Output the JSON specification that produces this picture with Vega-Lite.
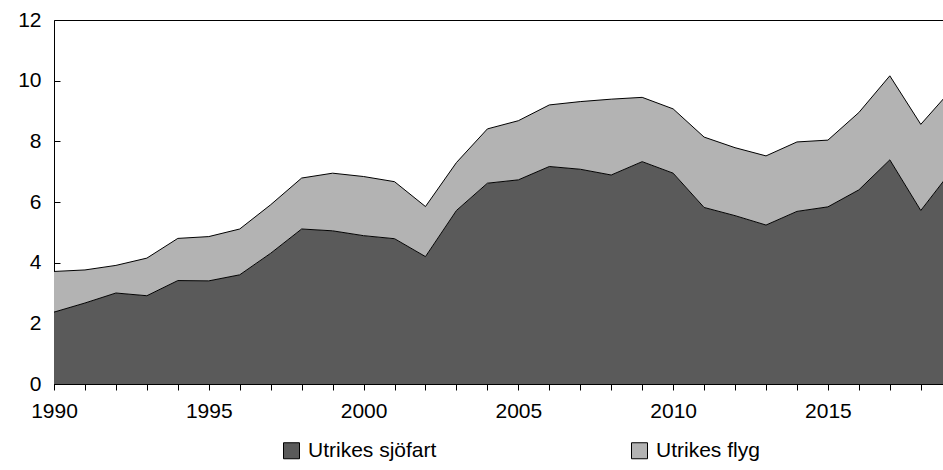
{
  "$schema": "https://vega.github.io/schema/vega-lite/v6.json",
  "autosize": "none",
  "width": 890,
  "height": 364,
  "padding": {"left": 54, "top": 20, "right": 0, "bottom": 86},
  "background": "white",
  "data": {
    "values": [
      {"year": 1990, "typ": "Utrikes sjöfart", "value": 2.37}, {"year": 1990, "typ": "Utrikes flyg", "value": 1.34},
      {"year": 1991, "typ": "Utrikes sjöfart", "value": 2.67}, {"year": 1991, "typ": "Utrikes flyg", "value": 1.09},
      {"year": 1992, "typ": "Utrikes sjöfart", "value": 3.00}, {"year": 1992, "typ": "Utrikes flyg", "value": 0.91},
      {"year": 1993, "typ": "Utrikes sjöfart", "value": 2.91}, {"year": 1993, "typ": "Utrikes flyg", "value": 1.24},
      {"year": 1994, "typ": "Utrikes sjöfart", "value": 3.41}, {"year": 1994, "typ": "Utrikes flyg", "value": 1.39},
      {"year": 1995, "typ": "Utrikes sjöfart", "value": 3.40}, {"year": 1995, "typ": "Utrikes flyg", "value": 1.46},
      {"year": 1996, "typ": "Utrikes sjöfart", "value": 3.60}, {"year": 1996, "typ": "Utrikes flyg", "value": 1.51},
      {"year": 1997, "typ": "Utrikes sjöfart", "value": 4.31}, {"year": 1997, "typ": "Utrikes flyg", "value": 1.60},
      {"year": 1998, "typ": "Utrikes sjöfart", "value": 5.11}, {"year": 1998, "typ": "Utrikes flyg", "value": 1.68},
      {"year": 1999, "typ": "Utrikes sjöfart", "value": 5.05}, {"year": 1999, "typ": "Utrikes flyg", "value": 1.90},
      {"year": 2000, "typ": "Utrikes sjöfart", "value": 4.89}, {"year": 2000, "typ": "Utrikes flyg", "value": 1.95},
      {"year": 2001, "typ": "Utrikes sjöfart", "value": 4.79}, {"year": 2001, "typ": "Utrikes flyg", "value": 1.88},
      {"year": 2002, "typ": "Utrikes sjöfart", "value": 4.20}, {"year": 2002, "typ": "Utrikes flyg", "value": 1.65},
      {"year": 2003, "typ": "Utrikes sjöfart", "value": 5.72}, {"year": 2003, "typ": "Utrikes flyg", "value": 1.58},
      {"year": 2004, "typ": "Utrikes sjöfart", "value": 6.62}, {"year": 2004, "typ": "Utrikes flyg", "value": 1.79},
      {"year": 2005, "typ": "Utrikes sjöfart", "value": 6.73}, {"year": 2005, "typ": "Utrikes flyg", "value": 1.95},
      {"year": 2006, "typ": "Utrikes sjöfart", "value": 7.17}, {"year": 2006, "typ": "Utrikes flyg", "value": 2.03},
      {"year": 2007, "typ": "Utrikes sjöfart", "value": 7.08}, {"year": 2007, "typ": "Utrikes flyg", "value": 2.23},
      {"year": 2008, "typ": "Utrikes sjöfart", "value": 6.89}, {"year": 2008, "typ": "Utrikes flyg", "value": 2.50},
      {"year": 2009, "typ": "Utrikes sjöfart", "value": 7.33}, {"year": 2009, "typ": "Utrikes flyg", "value": 2.12},
      {"year": 2010, "typ": "Utrikes sjöfart", "value": 6.95}, {"year": 2010, "typ": "Utrikes flyg", "value": 2.12},
      {"year": 2011, "typ": "Utrikes sjöfart", "value": 5.82}, {"year": 2011, "typ": "Utrikes flyg", "value": 2.32},
      {"year": 2012, "typ": "Utrikes sjöfart", "value": 5.55}, {"year": 2012, "typ": "Utrikes flyg", "value": 2.24},
      {"year": 2013, "typ": "Utrikes sjöfart", "value": 5.24}, {"year": 2013, "typ": "Utrikes flyg", "value": 2.28},
      {"year": 2014, "typ": "Utrikes sjöfart", "value": 5.69}, {"year": 2014, "typ": "Utrikes flyg", "value": 2.29},
      {"year": 2015, "typ": "Utrikes sjöfart", "value": 5.84}, {"year": 2015, "typ": "Utrikes flyg", "value": 2.20},
      {"year": 2016, "typ": "Utrikes sjöfart", "value": 6.40}, {"year": 2016, "typ": "Utrikes flyg", "value": 2.55},
      {"year": 2017, "typ": "Utrikes sjöfart", "value": 7.39}, {"year": 2017, "typ": "Utrikes flyg", "value": 2.77},
      {"year": 2018, "typ": "Utrikes sjöfart", "value": 5.72}, {"year": 2018, "typ": "Utrikes flyg", "value": 2.84},
      {"year": 2019, "typ": "Utrikes sjöfart", "value": 7.04}, {"year": 2019, "typ": "Utrikes flyg", "value": 2.67}
    ]
  },
  "encoding": {
    "x": {
      "field": "year", "type": "quantitative",
      "scale": {"domain": [1990, 2018.75], "nice": false, "zero": false},
      "axis": {
        "title": null,
        "values": [1990,1991,1992,1993,1994,1995,1996,1997,1998,1999,2000,2001,2002,2003,2004,2005,2006,2007,2008,2009,2010,2011,2012,2013,2014,2015,2016,2017,2018],
        "labelExpr": "datum.value % 5 === 0 ? datum.value : ''",
        "domain": false,
        "grid": false,
        "offset": -6,
        "tickSize": 12,
        "tickColor": "black",
        "tickWidth": 1,
        "labelPadding": 10,
        "labelFont": "Liberation Sans",
        "labelFontSize": 21,
        "labelColor": "black",
        "labelFlush": false,
        "labelOverlap": false
      }
    },
    "y": {
      "field": "value", "type": "quantitative", "stack": "zero",
      "scale": {"domain": [0, 12], "nice": false},
      "axis": {
        "title": null,
        "values": [0, 2, 4, 6, 8, 10, 12],
        "domain": false,
        "grid": false,
        "tickSize": -6,
        "tickColor": "black",
        "labelPadding": 19,
        "labelFont": "Liberation Sans",
        "labelFontSize": 21,
        "labelColor": "black"
      }
    }
  },
  "layer": [
    {
      "mark": {"type": "area", "clip": true, "opacity": 1},
      "encoding": {
        "color": {
          "field": "typ", "type": "nominal",
          "sort": ["Utrikes sjöfart", "Utrikes flyg"],
          "scale": {"domain": ["Utrikes sjöfart", "Utrikes flyg"], "range": ["#5a5a5a", "#b3b3b3"]},
          "legend": {
            "title": null,
            "orient": "none",
            "legendX": 227,
            "legendY": 420,
            "direction": "horizontal",
            "padding": 0,
            "symbolType": "square",
            "symbolSize": 256,
            "symbolStrokeColor": "black",
            "symbolStrokeWidth": 1,
            "symbolOpacity": 1,
            "labelFont": "Liberation Sans",
            "labelFontSize": 21,
            "labelColor": "black",
            "labelOffset": 6,
            "labelLimit": 0,
            "columnPadding": 192
          }
        }
      }
    },
    {
      "mark": {"type": "line", "clip": true, "strokeWidth": 1, "color": "black"},
      "encoding": {
        "detail": {"field": "typ", "type": "nominal"},
        "order": {"field": "typ", "sort": "descending"}
      }
    }
  ],
  "config": {
    "view": {"stroke": "black", "strokeWidth": 1}
  }
}
